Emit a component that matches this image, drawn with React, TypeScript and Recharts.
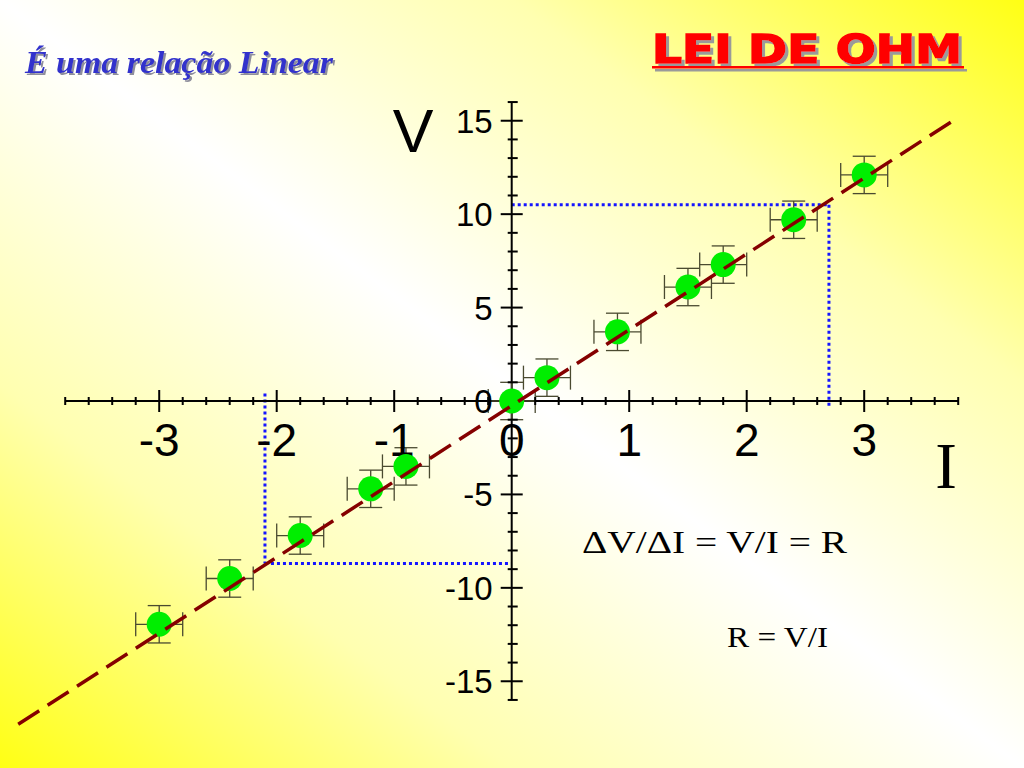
import {
  ComposedChart,
  XAxis,
  YAxis,
  Scatter,
  ReferenceLine,
  ErrorBar,
} from "recharts";

// measured points (current I, voltage V)
const CURRENT = [-3, -2.4, -1.8, -1.2, -0.9, 0, 0.3, 0.9, 1.5, 1.8, 2.4, 3];
const VOLTAGE = [-11.95, -9.5, -7.2, -4.7, -3.5, 0, 1.25, 3.7, 6.1, 7.3, 9.7, 12.1];
const CURRENT_ERR = 0.2;
const VOLTAGE_ERR = 1;

// fitted line ends
const FIT_I = [-4.2, 3.78];
const FIT_V = [-17.3, 15.1];

const X_TICK_LABELS = [-3, -2, -1, 0, 1, 2, 3];
const Y_TICK_LABELS = [15, 10, 5, 0, -5, -10, -15];

// small ticks: every 0.2 on I, every 1 on V
const X_TICKS = Array.from({ length: 39 }, (_, k) => Math.round((k - 19) * 2) / 10);
const Y_TICKS = Array.from({ length: 33 }, (_, k) => k - 16);

// dotted guide corners
const GUIDE_HIGH = { i: 2.7, v: 10.5 };
const GUIDE_LOW = { i: -2.1, v: -8.7 };

const points = CURRENT.map((i, k) => ({
  i,
  v: VOLTAGE[k],
  ei: CURRENT_ERR,
  ev: VOLTAGE_ERR,
}));
const fit = FIT_I.map((i, k) => ({ i, v: FIT_V[k] }));
const xTicks = X_TICKS.map((i) => ({ i, v: 0, major: Number.isInteger(i) }));
const yTicks = Y_TICKS.map((v) => ({ i: 0, v, major: v % 5 === 0 }));
const xLabels = X_TICK_LABELS.map((i) => ({ i, v: 0 }));
const yLabels = Y_TICK_LABELS.map((v) => ({ i: 0, v }));

const AXIS = "#000000";
const GUIDE = "#1414ff";
const sans = "'Liberation Sans', Arial, sans-serif";
const serif = "'Liberation Serif', 'Times New Roman', serif";

export default function App() {
  return (
    <div
      style={{
        position: "relative",
        width: 1024,
        height: 768,
        overflow: "hidden",
        background:
          "linear-gradient(to top right, #ffff14 0%, #ffffb0 25%, #ffffff 50%, #ffffb0 75%, #ffff14 100%)",
      }}
    >
      <style>{"body{margin:0}"}</style>
      <ComposedChart
        width={1024}
        height={768}
        margin={{ top: 46, right: 0, bottom: 12, left: 0 }}
      >
        <XAxis type="number" dataKey="i" domain={[-4.355, 4.36]} allowDataOverflow hide />
        <YAxis type="number" dataKey="v" domain={[-19, 19]} allowDataOverflow hide />

        {/* dotted guides */}
        <ReferenceLine
          segment={[{ x: 0, y: GUIDE_HIGH.v }, { x: GUIDE_HIGH.i, y: GUIDE_HIGH.v }]}
          stroke={GUIDE}
          strokeWidth={3}
          strokeDasharray="3 3"
        />
        <ReferenceLine
          segment={[{ x: GUIDE_HIGH.i, y: GUIDE_HIGH.v }, { x: GUIDE_HIGH.i, y: -0.4 }]}
          stroke={GUIDE}
          strokeWidth={3}
          strokeDasharray="3 3"
        />
        <ReferenceLine
          segment={[{ x: GUIDE_LOW.i, y: 0.4 }, { x: GUIDE_LOW.i, y: GUIDE_LOW.v }]}
          stroke={GUIDE}
          strokeWidth={3}
          strokeDasharray="3 3"
        />
        <ReferenceLine
          segment={[{ x: GUIDE_LOW.i, y: GUIDE_LOW.v }, { x: 0, y: GUIDE_LOW.v }]}
          stroke={GUIDE}
          strokeWidth={3}
          strokeDasharray="3 3"
        />

        {/* axes through the origin */}
        <ReferenceLine segment={[{ x: -3.8, y: 0 }, { x: 3.8, y: 0 }]} stroke={AXIS} strokeWidth={2} />
        <ReferenceLine segment={[{ x: 0, y: -16 }, { x: 0, y: 16 }]} stroke={AXIS} strokeWidth={2} />

        <Scatter
          data={xTicks}
          dataKey="v"
          isAnimationActive={false}
          shape={(p: any) => {
            const len = p.payload.major ? 11 : 4;
            return (
              <line x1={p.cx} x2={p.cx} y1={p.cy - len} y2={p.cy + len} stroke={AXIS} strokeWidth={2} />
            );
          }}
        />
        <Scatter
          data={yTicks}
          dataKey="v"
          isAnimationActive={false}
          shape={(p: any) => {
            const a = p.payload.major ? 11 : 4;
            const b = p.payload.major ? 11 : 6;
            return (
              <line x1={p.cx - a} x2={p.cx + b} y1={p.cy} y2={p.cy} stroke={AXIS} strokeWidth={2} />
            );
          }}
        />
        <Scatter
          data={xLabels}
          dataKey="v"
          isAnimationActive={false}
          shape={(p: any) => (
            <text x={p.cx} y={p.cy + 55} textAnchor="middle" fontFamily={sans} fontSize={46} fill="#000">
              {p.payload.i}
            </text>
          )}
        />
        <Scatter
          data={yLabels}
          dataKey="v"
          isAnimationActive={false}
          shape={(p: any) => (
            <text x={p.cx - 19} y={p.cy + 12} textAnchor="end" fontFamily={sans} fontSize={33} fill="#000">
              {p.payload.v}
            </text>
          )}
        />

        <Scatter
          data={points}
          dataKey="v"
          isAnimationActive={false}
          shape={(p: any) => <circle cx={p.cx} cy={p.cy} r={12.5} fill="#00ee00" />}
        >
          <ErrorBar dataKey="ei" direction="x" width={12} stroke="#4a4a30" strokeWidth={1.3} />
          <ErrorBar dataKey="ev" direction="y" width={11.5} stroke="#4a4a30" strokeWidth={1.3} />
        </Scatter>

        {/* fitted line, drawn above the points */}
        <Scatter
          data={fit}
          dataKey="v"
          isAnimationActive={false}
          line={{ stroke: "#850000", strokeWidth: 3.5, strokeDasharray: "25 10" }}
          lineType="joint"
          shape={() => <g />}
        />
      </ComposedChart>

      <svg
        width={1024}
        height={768}
        style={{ position: "absolute", left: 0, top: 0, pointerEvents: "none" }}
      >
        <defs>
          <filter id="shadowBlue" x="-5%" y="-20%" width="110%" height="150%">
            <feDropShadow dx={2} dy={2} stdDeviation={0.6} floodColor="#8f8f9c" floodOpacity={1} />
          </filter>
          <filter id="shadowRed" x="-5%" y="-20%" width="110%" height="150%">
            <feDropShadow dx={3} dy={3} stdDeviation={0.4} floodColor="#9a9a9a" floodOpacity={1} />
          </filter>
        </defs>

        {/* titles */}
        <text x={25} y={73} fontFamily={serif} fontStyle="italic" fontWeight="bold" fontSize={31} fill="#3333cc" textLength={308} lengthAdjust="spacingAndGlyphs" filter="url(#shadowBlue)">
          É uma relação Linear
        </text>

        <g filter="url(#shadowRed)">
          <text x={652} y={63} fontFamily="'DejaVu Sans', sans-serif" fontWeight="bold" fontSize={39} fill="#ff0000" stroke="#ff0000" strokeWidth={1.5} textLength={310} lengthAdjust="spacingAndGlyphs">
            LEI DE OHM
          </text>
          <rect x={652} y={66} width={312} height={2.5} fill="#ff0000" />
        </g>

        {/* axis names */}
        <text x={413} y={152} textAnchor="middle" fontFamily={sans} fontSize={61} fill="#000">
          V
        </text>
        <text x={946} y={488} textAnchor="middle" fontFamily={serif} fontSize={65} fill="#000">
          I
        </text>

        {/* relations */}
        <text x={582} y={553} fontFamily={serif} fontSize={31} fill="#000" textLength={265} lengthAdjust="spacingAndGlyphs">
          ΔV/ΔI = V/I = R
        </text>
        <text x={727} y={647} fontFamily={serif} fontSize={29} fill="#000" textLength={101} lengthAdjust="spacingAndGlyphs">
          R = V/I
        </text>
      </svg>
    </div>
  );
}
